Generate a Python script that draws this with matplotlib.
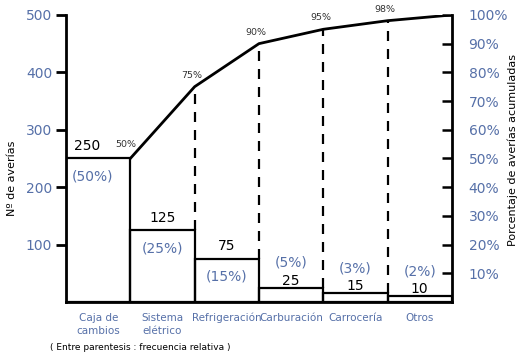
import numpy as np
import matplotlib.pyplot as plt

# data
categorias = ["Caja de\ncambios", "Sistema\nelétrico", "Refrigeración",
              "Carburación", "Carrocería", "Otros"]
averias = [250, 125, 75, 25, 15, 10]
frec_rel = [50, 25, 15, 5, 3, 2]
acumulado = [50, 75, 90, 95, 98, 100]

azul = "#5670a8"
total = sum(averias)

fig = plt.figure(figsize=(5.2, 3.56), dpi=100)
ax = fig.add_axes([0.127, 0.152, 0.742, 0.806])

n = len(averias)
x = np.arange(n)

# bars (white, black edge), touching each other
ax.bar(x, averias, width=1, align="edge", fill=False,
       edgecolor="black", linewidth=1.6, zorder=2)

# cumulative line from the right edge of each bar
cum_y = [c * total / 100 for c in acumulado]
ax.plot(x + 1, cum_y, color="black", lw=2, zorder=3, solid_joinstyle="round")

# dashed drop lines
for i in range(1, n - 1):
    ax.vlines(i + 1, averias[i], cum_y[i], colors="black", lw=1.6,
              linestyles=(0, (4.5, 3.6)), zorder=2)

# cumulative labels
for i in range(n - 1):
    dx = -3 if i == 0 else -2
    dy = 7 if i == 0 else 5
    ax.annotate(f"{acumulado[i]}%", (i + 1, cum_y[i]), xytext=(dx, dy),
                textcoords="offset points", ha="center", va="bottom",
                fontsize=6.8, color="#333333")

# count and relative frequency labels
for i in range(n):
    cx = i + 0.5
    if i < 3:
        dx = -8 if i == 0 else 0
        ax.annotate(str(averias[i]), (cx, averias[i]), xytext=(dx, 4),
                    textcoords="offset points", ha="center", va="bottom",
                    fontsize=10)
        ax.annotate(f"({frec_rel[i]}%)", (cx, averias[i]), xytext=(dx / 2, -8),
                    textcoords="offset points", ha="center", va="top",
                    fontsize=10, color=azul)
    else:
        ax.annotate(str(averias[i]), (cx, averias[i]), xytext=(0, 0),
                    textcoords="offset points", ha="center", va="bottom",
                    fontsize=10)
        ax.annotate(f"({frec_rel[i]}%)", (cx, averias[i]), xytext=(0, 13),
                    textcoords="offset points", ha="center", va="bottom",
                    fontsize=10, color=azul)

ax.set_xlim(0, n)
ax.set_ylim(0, 500)
ax.set_yticks([100, 200, 300, 400, 500])
ax.tick_params(axis="y", direction="out", length=7, width=2, pad=3,
               labelsize=10, labelcolor=azul)
ax.set_xticks(x + 0.5)
ax.set_xticklabels(categorias, fontsize=7.5, color=azul, linespacing=1.4)
ax.tick_params(axis="x", length=0, pad=8)
ax.spines["top"].set_visible(False)
ax.spines["right"].set_visible(False)
ax.spines["left"].set_linewidth(2)
ax.spines["bottom"].set_linewidth(2)

ax2 = ax.twinx()
ax2.set_ylim(0, 100)
ax2.set_yticks(range(10, 101, 10))
ax2.set_yticklabels([f"{v}%" for v in range(10, 101, 10)])
ax2.tick_params(axis="y", direction="in", length=7, width=1.8, pad=12,
                labelsize=10, labelcolor=azul)
for s in ["top", "left", "bottom"]:
    ax2.spines[s].set_visible(False)
ax2.spines["right"].set_linewidth(2)

fig.text(0.023, 0.5, "Nº de averías", fontsize=8, rotation=90,
         ha="center", va="center")
fig.text(0.986, 0.58, "Porcentaje de averías acumuladas", fontsize=8,
         rotation=90, ha="center", va="center")
fig.text(0.096, 0.025, "( Entre parentesis : frecuencia relativa )",
         fontsize=6.5, va="center")

fig.savefig("out.png", dpi=100)
